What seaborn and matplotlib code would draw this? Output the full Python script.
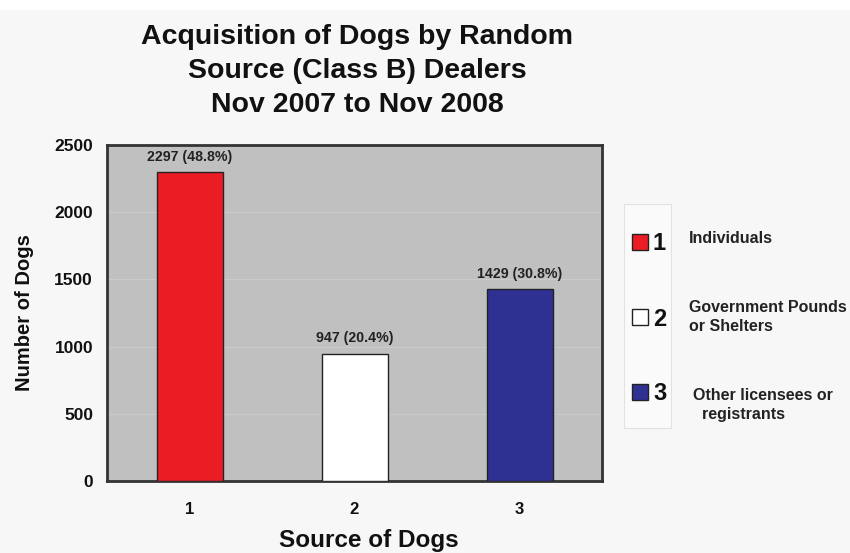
import matplotlib
matplotlib.use("Agg")
import matplotlib.pyplot as plt
from matplotlib.patches import Rectangle
import seaborn as sns
import pandas as pd

# Data
sources = ["1", "2", "3"]
dog_counts = [2297, 947, 1429]
percentages = [48.8, 20.4, 30.8]
source_names = ["Individuals", "Government Pounds\nor Shelters", "Other licensees or\n  registrants"]
bar_colors = ["#ec1c24", "#ffffff", "#2e3192"]
y_ticks = [0, 500, 1000, 1500, 2000, 2500]

sns.set_theme(style="white")
plt.rcParams["font.family"] = ["Liberation Sans", "DejaVu Sans"]
plt.rcParams["font.weight"] = "bold"

df = pd.DataFrame({"source": sources, "count": dog_counts})

fig = plt.figure(figsize=(8.5, 5.53), dpi=100)
fig.patch.set_facecolor("#f7f7f7")
fig.patches.append(Rectangle((0, 1 - 10 / 553), 1, 10 / 553, transform=fig.transFigure,
                             facecolor="white", edgecolor="none", zorder=0))

ax = fig.add_axes([107 / 850, 1 - 481 / 553, 495 / 850, 336 / 553])
ax.set_facecolor("#c0c0c0")

sns.barplot(data=df, x="source", y="count", hue="source", palette=bar_colors,
            saturation=1, width=0.4, edgecolor="#222222", linewidth=1,
            legend=False, ax=ax, zorder=3)

ax.set_ylim(0, 2500)
ax.set_xlim(-0.5, 2.5)
ax.set_yticks(y_ticks)
ax.yaxis.grid(True, color="#cacaca", linewidth=0.8, zorder=0)
ax.set_axisbelow(True)
ax.tick_params(axis="y", length=0, pad=10, labelsize=12.5)
ax.tick_params(axis="x", length=0, pad=15, labelsize=12)
for lbl in ax.get_xticklabels() + ax.get_yticklabels():
    lbl.set_fontweight("bold")
    lbl.set_color("#111111")

for side in ["left", "right", "top", "bottom"]:
    ax.spines[side].set_visible(True)
    ax.spines[side].set_color("#333333")
    ax.spines[side].set_linewidth(2)

ax.set_xlabel("Source of Dogs", fontsize=17.5, fontweight="bold", color="#111111")
ax.xaxis.set_label_coords((369 - 107) / 495, -(540 - 481) / 336)
ax.xaxis.label.set_va("center")
ax.set_ylabel("Number of Dogs", fontsize=14.5, fontweight="bold", color="#111111")
ax.yaxis.set_label_coords(-(107 - 25) / 495, 0.5)
ax.yaxis.label.set_va("center")

# value labels above bars
for i, (v, p) in enumerate(zip(dog_counts, percentages)):
    ax.annotate(f"{v} ({p}%)", (i, v), xytext=(0, 6), textcoords="offset points",
                ha="center", va="bottom", fontsize=10.2, fontweight="bold", color="#222222")

fig.text(357 / 850, 1 - 71 / 553,
         "Acquisition of Dogs by Random\nSource (Class B) Dealers\nNov 2007 to Nov 2008",
         ha="center", va="center", fontsize=20.5, fontweight="bold", color="#111111",
         linespacing=1.4)

# Side legend
fig.patches.append(Rectangle((624 / 850, 1 - 428 / 553), 47 / 850, 224 / 553,
                             transform=fig.transFigure, facecolor="#fafafa",
                             edgecolor="#e2e2e2", linewidth=0.8, zorder=1))
legend_y = [242, 317, 392]
label_y = [238, 317, 405]
label_x = [689, 689, 693]
for k in range(3):
    yc = 1 - legend_y[k] / 553
    fig.patches.append(Rectangle((632 / 850, yc - 8 / 553), 16 / 850, 16 / 553,
                                 transform=fig.transFigure, facecolor=bar_colors[k],
                                 edgecolor="#222222", linewidth=1, zorder=2))
    fig.text(653 / 850, yc - 2 / 553, sources[k], ha="left", va="center",
             fontsize=17, fontweight="bold", color="#111111")
    fig.text(label_x[k] / 850, 1 - label_y[k] / 553, source_names[k], ha="left", va="center",
             fontsize=11.5, fontweight="bold", color="#222222", linespacing=1.3)

fig.savefig("out.png", dpi=100, facecolor=fig.get_facecolor())
